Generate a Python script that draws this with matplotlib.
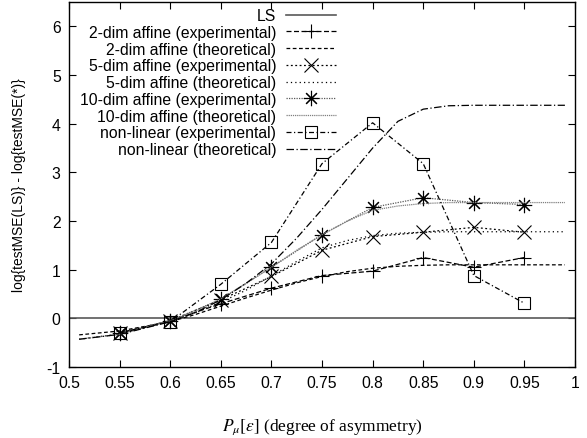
import numpy as np
import matplotlib
matplotlib.use("Agg")
import matplotlib.pyplot as plt

plt.rcParams['font.family'] = ['Liberation Sans', 'DejaVu Sans']
plt.rcParams['axes.unicode_minus'] = False
plt.rcParams['mathtext.fontset'] = 'stix'

# experimental points
x_exp = [0.55, 0.6, 0.65, 0.7, 0.75, 0.8, 0.85, 0.9, 0.95]
exp_2 = [-0.30, -0.05, 0.30, 0.62, 0.88, 0.97, 1.25, 1.05, 1.25]
exp_5 = [-0.30, -0.05, 0.38, 0.86, 1.40, 1.68, 1.77, 1.87, 1.77]
exp_10 = [-0.30, -0.05, 0.39, 1.05, 1.72, 2.28, 2.48, 2.38, 2.34]
exp_nl = [-0.30, -0.07, 0.70, 1.56, 3.18, 4.02, 3.18, 0.88, 0.31]

x_th = [0.51, 0.55, 0.6, 0.625, 0.65, 0.675, 0.7, 0.725, 0.75, 0.775,
        0.8, 0.825, 0.85, 0.875, 0.9, 0.95, 0.99]
th_2 = [-0.34, -0.26, -0.07, 0.08, 0.25, 0.42, 0.58, 0.73, 0.86, 0.96,
        1.03, 1.07, 1.09, 1.10, 1.10, 1.10, 1.10]
th_5 = [-0.43, -0.32, -0.06, 0.12, 0.33, 0.58, 0.87, 1.17, 1.45, 1.60,
        1.70, 1.75, 1.77, 1.78, 1.78, 1.78, 1.78]
th_10 = [-0.43, -0.33, -0.05, 0.15, 0.40, 0.72, 1.05, 1.40, 1.72, 2.00,
         2.22, 2.31, 2.36, 2.38, 2.38, 2.38, 2.38]
th_nl = [-0.43, -0.33, -0.07, 0.12, 0.38, 0.72, 1.12, 1.65, 2.24, 2.87,
         3.50, 4.05, 4.30, 4.37, 4.38, 4.38, 4.38]

fig = plt.figure(figsize=(5.87, 4.39), dpi=100)
ax = fig.add_axes([0.1176, 0.1618, 0.862, 0.831])

lw = 0.9
ax.axhline(0, color='0.35', lw=1.2, label='LS')
ax.plot(x_exp, exp_2, color='k', lw=lw, ls=(0, (4, 2)), marker='+', ms=10,
        mew=0.8, label='2-dim affine (experimental)')
ax.plot(x_th, th_2, color='k', lw=lw, ls=(0, (3, 2)),
        label='2-dim affine (theoretical)')
ax.plot(x_exp, exp_5, color='k', lw=lw, ls=(0, (1.5, 2)), marker='x', ms=10,
        mew=0.8, label='5-dim affine (experimental)')
ax.plot(x_th, th_5, color='k', lw=lw, ls=(0, (1, 2.5)),
        label='5-dim affine (theoretical)')
ax.plot(x_exp, exp_10, color='0.35', lw=lw, ls=(0, (1, 1)),
        marker=(8, 2, 0), ms=11, mec='k', mew=0.8,
        label='10-dim affine (experimental)')
ax.plot(x_th, th_10, color='0.5', lw=lw, ls=(0, (1, 0.7)),
        label='10-dim affine (theoretical)')
ax.plot(x_exp, exp_nl, color='k', lw=lw, ls=(0, (4, 2, 1, 2)), marker='s',
        ms=9, mfc='none', mec='k', mew=0.8,
        label='non-linear (experimental)')
ax.plot(x_th, th_nl, color='k', lw=lw, ls=(0, (6, 2, 1, 2)),
        label='non-linear (theoretical)')

ax.set_xlim(0.5, 1.0)
ax.set_ylim(-1, 6.5)
xt = [0.5, 0.55, 0.6, 0.65, 0.7, 0.75, 0.8, 0.85, 0.9, 0.95, 1.0]
ax.set_xticks(xt)
ax.set_xticklabels(['%g' % v for v in xt])
ax.set_yticks(range(-1, 7))
ax.tick_params(direction='in', top=True, right=True, length=5,
               labelsize=11.3, width=0.8, pad=6)
for s in ax.spines.values():
    s.set_linewidth(1.0)

ax.set_ylabel('log{testMSE(LS)} - log{testMSE(*)}', fontsize=10, labelpad=15)
ax.set_xlabel(r'$P_\mu[\epsilon]$ (degree of asymmetry)', fontsize=12.5,
              family='Liberation Serif', labelpad=19)

ax.legend(loc='upper right', bbox_to_anchor=(0.543, 1.005), frameon=False,
          markerfirst=False, fontsize=11.3, labelspacing=0.11,
          handlelength=3.2, handletextpad=0.6, borderaxespad=0.1)

fig.savefig('out.png', dpi=100)
